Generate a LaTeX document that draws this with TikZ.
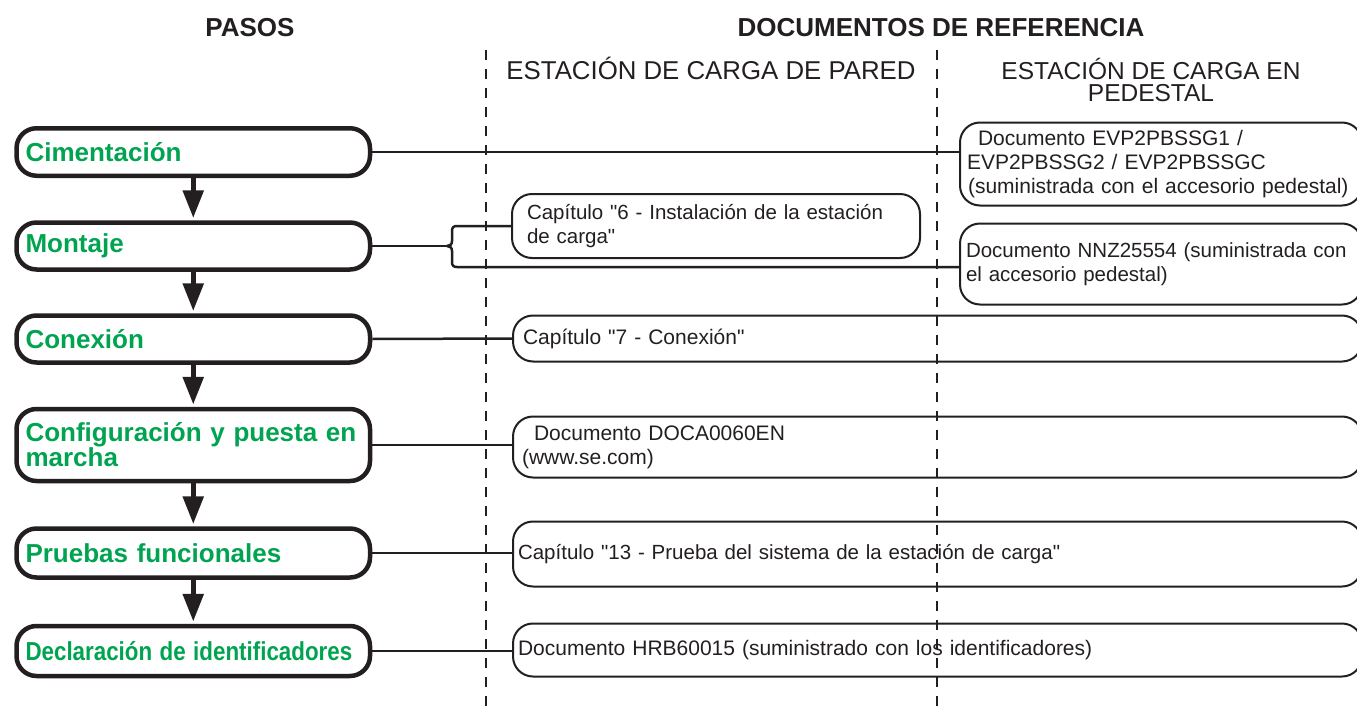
\documentclass[tikz,border=0pt]{standalone}
\usepackage{fontspec}
\setmainfont{Liberation Sans}[Ligatures=TeXOff]
\usetikzlibrary{arrows.meta}
\definecolor{stepgreen}{RGB}{0,163,80}
\definecolor{ink}{RGB}{35,31,32}
\begin{document}
\begin{tikzpicture}[x=1pt,y=-1pt,
  stepbox/.style={draw=ink, line width=4.5pt, rounded corners=20pt,
    minimum width=353.5pt, anchor=west, inner xsep=9pt, inner ysep=0pt,
    text width=335.5pt, align=left, text=stepgreen,
    font=\fontsize{26}{25}\selectfont\bfseries},
  docbox/.style={draw=ink, line width=2pt, rounded corners=20pt,
    anchor=west, inner ysep=0pt, align=left, text=ink,
    font=\fontsize{21}{24}\selectfont},
  smalldoc/.style={font=\fontsize{20.5}{24}\selectfont},
  conn/.style={draw=ink, line width=2.5pt},
  flow/.style={draw=ink, line width=5.5pt, -{Triangle[width=20pt,length=28pt]}, shorten >=2pt},
  sep/.style={draw=ink, line width=2.5pt, dash pattern=on 10pt off 9pt},
  title/.style={font=\fontsize{26}{28}\selectfont\bfseries, text=ink, anchor=base},
  colhead/.style={font=\fontsize{24.5}{22}\selectfont, text=ink, align=center}
]
\useasboundingbox (0,0) rectangle (1357,709);
\clip (0,0) rectangle (1357,709);

% titles
\node[title] (tpasos) at (250,37) {PASOS};
\node[title] (tdocs) at (941,37) {DOCUMENTOS DE REFERENCIA};
\node[colhead, anchor=base, font=\fontsize{25.8}{22}\selectfont] (hpared) at (711,79) {ESTACIÓN DE CARGA DE PARED};
\node[colhead, anchor=base] (hped1) at (1151,79) {ESTACIÓN DE CARGA EN};
\node[colhead, anchor=base] (hped2) at (1151,101) {PEDESTAL};

% separators
\draw[sep] (486,50) -- (486,709);
\draw[sep] (937,50) -- (937,709);

% steps
\node[stepbox, minimum height=47.5pt] (cim) at (14.25,152) {Cimentación};
\node[stepbox, minimum height=47pt] (mon) at (14.25,246) {Montaje};
\node[stepbox, minimum height=47pt] (con) at (14.25,339) {Conexión};
\node[stepbox, minimum height=72pt] (conf) at (14.25,445) {Configuración y puesta en\\marcha};
\node[stepbox, minimum height=49pt] (pru) at (14.25,553) {Pruebas funcionales};
\node[stepbox, minimum height=50pt] (dec) at (14.25,651) {\scalebox{0.86}[1]{Declaración de identificadores}};

% document boxes
\node[docbox, minimum width=402pt, text width=388pt, inner xsep=7pt, minimum height=83pt] (evp) at (959,164)
  {\hspace*{11pt}Documento EVP2PBSSG1 /\\EVP2PBSSG2 / EVP2PBSSGC\\\hspace*{1pt}(suministrada con el accesorio pedestal)};
\node[docbox, smalldoc, minimum width=408pt, text width=378pt, inner xsep=15pt, minimum height=64pt] (cap6) at (511,226)
  {Capítulo "6 - Instalación de la estación\\de carga"};
\node[docbox, smalldoc, minimum width=402pt, text width=394pt, inner xsep=4pt, minimum height=81pt] (nnz) at (959,264)
  {\hspace*{2pt}Documento NNZ25554 (suministrada con\\\hspace*{2pt}el accesorio pedestal)};
\node[docbox, minimum width=849pt, text width=829pt, inner xsep=10pt, minimum height=46pt] (cap7) at (512,338.5)
  {Capítulo "7 - Conexión"};
\node[docbox, minimum width=849pt, text width=831pt, inner xsep=9pt, minimum height=61pt] (doca) at (512,447)
  {\hspace*{12pt}Documento DOCA0060EN\\(www.se.com)};
\node[docbox, smalldoc, minimum width=849pt, text width=839pt, inner xsep=5pt, minimum height=65pt] (cap13) at (512,554)
  {Capítulo "13 - Prueba del sistema de la estación de carga"};
\node[docbox, minimum width=849pt, text width=839pt, inner xsep=5pt, minimum height=53pt] (hrb) at (512,650)
  {Documento HRB60015 (suministrado con los identificadores)};

% flow arrows
\draw[flow] (cim.south) -- (mon.north);
\draw[flow] (mon.south) -- (con.north);
\draw[flow] (con.south) -- (conf.north);
\draw[flow] (conf.south) -- (pru.north);
\draw[flow] (pru.south) -- (dec.north);

% connectors
\draw[conn] (cim.east) -- (cim.east -| evp.west);
\coordinate (nub) at (447,246);
\draw[conn] (mon.east) -- (nub);
\draw[conn] (cap6.west) -- (457,226) .. controls (453.5,226) and (452,227.5) .. (452,231) -- (452,241)
  .. controls (452,244.5) and (450,246) .. (nub);
\draw[conn] (nub) .. controls (450,246) and (452,247.5) .. (452,251) -- (452,262)
  .. controls (452,265.5) and (453.5,267) .. (457,267) -- ([yshift=-3pt]nnz.west);
\draw[conn] (con.east) -- (cap7.west);
\draw[conn] (conf.east) -- (conf.east -| doca.west);
\draw[conn] (pru.east) -- (pru.east -| cap13.west);
\draw[conn] (dec.east) -- (dec.east -| hrb.west);
\end{tikzpicture}
\end{document}
